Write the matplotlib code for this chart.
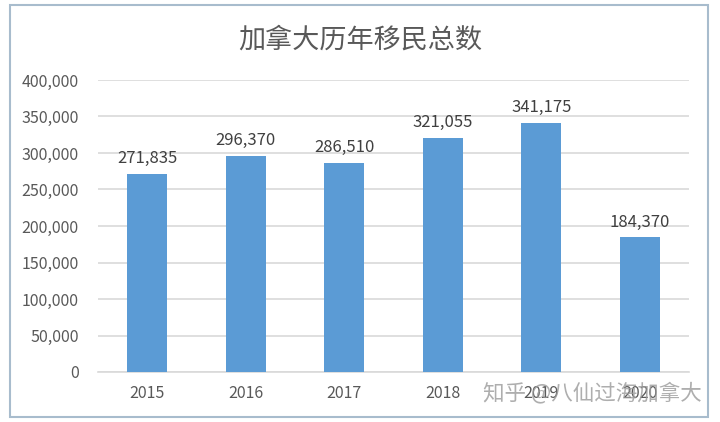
import matplotlib.pyplot as plt
from matplotlib.patches import Rectangle
from matplotlib.ticker import FuncFormatter, MultipleLocator

plt.rcParams["font.family"] = ["Noto Sans CJK SC", "DejaVu Sans"]

years = ["2015", "2016", "2017", "2018", "2019", "2020"]
totals = [271835, 296370, 286510, 321055, 341175, 184370]
title = "加拿大历年移民总数"
watermark = "知乎 @八仙过海加拿大"

BAR = "#5b9bd5"
TXT = "#595959"
GRID = "#d9d9d9"

fig = plt.figure(figsize=(7.2, 4.22), dpi=100)
fig.patches.append(Rectangle((10 / 720, 5 / 422), 698 / 720, 412 / 422,
                             transform=fig.transFigure, fill=False,
                             edgecolor="#a8bccd", lw=1.5))
ax = fig.add_axes([98 / 720, 50 / 422, 591 / 720, 292 / 422])

x = range(len(years))
bars = ax.bar(x, totals, width=0.41, color=BAR, zorder=3)
for b, v in zip(bars, totals):
    ax.annotate(f"{v:,}", (b.get_x() + b.get_width() / 2, v),
                xytext=(0, 5), textcoords="offset points",
                ha="center", va="bottom", fontsize=12, color="#404040")

ax.set_xlim(-0.5, len(years) - 0.5)
ax.set_ylim(0, 400000)
ax.yaxis.set_major_locator(MultipleLocator(50000))
ax.yaxis.set_major_formatter(FuncFormatter(lambda v, _: f"{int(v):,}"))
ax.set_xticks(list(x))
ax.set_xticklabels(years)
ax.tick_params(axis="both", length=0, labelsize=11.5, colors=TXT)
ax.tick_params(axis="y", pad=14)
ax.tick_params(axis="x", pad=9)
ax.grid(axis="y", color=GRID, lw=1.2, zorder=0)
for s in ["top", "right", "left"]:
    ax.spines[s].set_visible(False)
ax.spines["bottom"].set_color(GRID)
ax.spines["bottom"].set_linewidth(1.2)

fig.text(0.5, 1 - 40 / 422, title, ha="center", va="center",
         fontsize=19.5, color=TXT)
fig.text(702 / 720, 1 - 393 / 422, watermark, ha="right", va="center",
         fontsize=15.5, color="#9a9a9a", alpha=0.8)

fig.savefig("out.png", dpi=100)
